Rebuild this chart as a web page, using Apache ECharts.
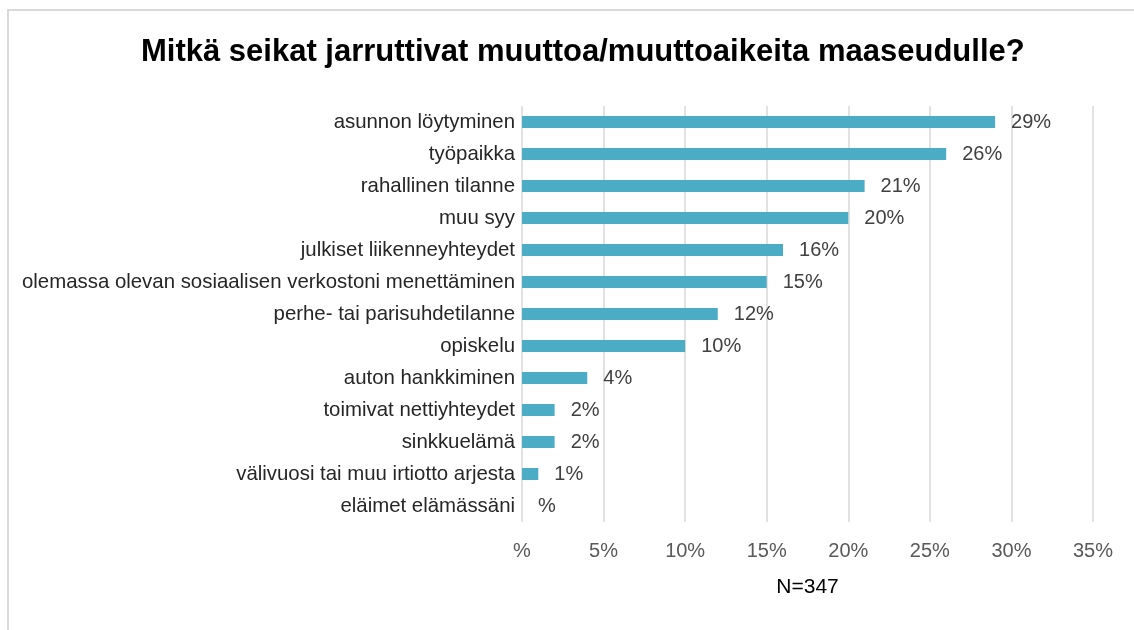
<!DOCTYPE html>
<html>
<head>
<meta charset="utf-8">
<script src="https://cdn.jsdelivr.net/npm/echarts@6/dist/echarts.min.js"></script>
<style>
  html, body { margin: 0; padding: 0; background: #fff; }
  #main { width: 1134px; height: 630px; }
</style>
</head>
<body>
<div id="main"></div>
<script>
// syyt (ylhäältä alas) ja osuudet prosentteina
var categories = [
  'asunnon löytyminen',
  'työpaikka',
  'rahallinen tilanne',
  'muu syy',
  'julkiset liikenneyhteydet',
  'olemassa olevan sosiaalisen verkostoni menettäminen',
  'perhe- tai parisuhdetilanne',
  'opiskelu',
  'auton hankkiminen',
  'toimivat nettiyhteydet',
  'sinkkuelämä',
  'välivuosi tai muu irtiotto arjesta',
  'eläimet elämässäni'
];
var values = [29, 26, 21, 20, 16, 15, 12, 10, 4, 2, 2, 1, 0];
var axisTicks = [0, 5, 10, 15, 20, 25, 30, 35];
var titleText = 'Mitkä seikat jarruttivat muuttoa/muuttoaikeita maaseudulle?';
var nText = 'N=347';

var FONT = "'Liberation Sans', Arial, sans-serif";

function pct(v) {
  return v === 0 ? '%' : v + '%';
}

var chart = echarts.init(document.getElementById('main'));
var option = {
  backgroundColor: '#fff',
  animation: false,
  title: {
    text: titleText,
    left: 136,
    top: 32,
    textStyle: { fontFamily: FONT, fontSize: 31, fontWeight: 'bold', color: '#000' }
  },
  graphic: [{
    type: 'rect',
    shape: { x: 8, y: 10, width: 1200, height: 700 },
    style: { fill: 'none', stroke: '#d9d9d9', lineWidth: 2 },
    silent: true
  }],
  grid: { left: 522, right: 41, top: 106, height: 416 },
  xAxis: {
    type: 'value',
    min: 0,
    max: 35,
    interval: 5,
    name: nText,
    nameLocation: 'middle',
    nameGap: 55,
    nameTextStyle: { fontFamily: FONT, fontSize: 21, color: '#000' },
    axisLine: { show: false },
    axisTick: { show: false },
    axisLabel: {
      margin: 19,
      fontFamily: FONT,
      fontSize: 20,
      color: '#595959',
      formatter: function (v) { return axisTicks.indexOf(v) >= 0 ? pct(v) : ''; }
    },
    splitLine: { lineStyle: { color: '#d9d9d9', width: 1.5 } }
  },
  yAxis: {
    type: 'category',
    inverse: true,
    data: categories,
    axisLine: { show: false },
    axisTick: { show: false },
    axisLabel: { margin: 7, fontFamily: FONT, fontSize: 20.4, color: '#262626' }
  },
  series: [{
    type: 'bar',
    data: values,
    barWidth: 12,
    itemStyle: { color: '#4BACC6' },
    label: {
      show: true,
      position: 'right',
      distance: 16,
      fontFamily: FONT,
      fontSize: 20,
      color: '#404040',
      formatter: function (p) { return pct(p.value); }
    }
  }]
};
chart.setOption(option);
</script>
</body>
</html>
